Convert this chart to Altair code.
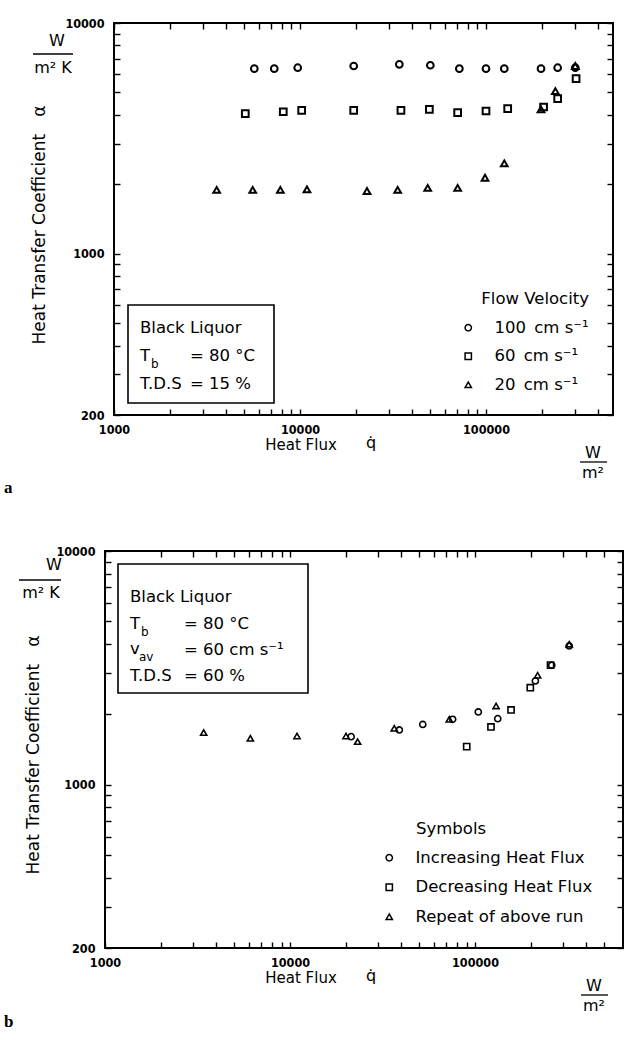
import altair as alt
import pandas as pd

# ---------------- data ----------------
# Panel a: flow velocity series
A_SERIES = ["100\u2002cm s\u207b\u00b9",
            "\u200760\u2002cm s\u207b\u00b9",
            "\u200720\u2002cm s\u207b\u00b9"]
A_Q_100 = [5680, 7270, 9720, 19440, 34200, 50200, 71900, 100000, 125400, 197600, 242800, 302000]
A_H_100 = [6340, 6340, 6400, 6510, 6620, 6560, 6340, 6340, 6340, 6340, 6400, 6400]
A_Q_60 = [5080, 8130, 10210, 19440, 34900, 49600, 70400, 100000, 130800, 204000, 242800, 305000]
A_H_60 = [4045, 4125, 4185, 4185, 4185, 4225, 4085, 4155, 4255, 4325, 4700, 5740]
A_Q_20 = [3565, 5570, 7840, 10900, 22920, 33500, 48600, 70400, 98800, 125400, 197600, 236000, 302000]
A_H_20 = [1890, 1890, 1890, 1900, 1870, 1890, 1930, 1930, 2135, 2465, 4225, 5070, 6510]

# Panel b: run series
B_SERIES = ["Increasing Heat Flux", "Decreasing Heat Flux", "Repeat of above run"]
B_Q_INC = [21400, 39000, 52200, 75700, 104200, 132700, 212000, 260000, 323000]
B_H_INC = [1605, 1714, 1810, 1905, 2047, 1917, 2778, 3243, 3923]
B_Q_DEC = [90200, 122000, 156600, 199000, 256000]
B_H_DEC = [1455, 1766, 2088, 2600, 3250]
B_Q_REP = [3415, 6105, 10910, 20080, 23200, 36600, 72600, 130000, 218000, 323000]
B_H_REP = [1670, 1578, 1615, 1615, 1528, 1743, 1905, 2172, 2938, 3990]

X_TICKS_A = [1000, 2000, 3000, 4000, 5000, 6000, 7000, 8000, 9000,
             10000, 20000, 30000, 40000, 50000, 60000, 70000, 80000, 90000,
             100000, 200000, 300000, 400000]
X_TICKS_B = X_TICKS_A + [500000]
Y_TICKS = [200, 300, 400, 500, 600, 700, 800, 900,
           1000, 2000, 3000, 4000, 5000, 6000, 7000, 8000, 9000, 10000]
X_LABELS = [1000, 10000, 100000]
Y_LABELS = [200, 1000, 10000]


def series_df(names, qs, hs):
    rows = []
    for n, q, h in zip(names, qs, hs):
        for qq, hh in zip(q, h):
            rows.append({"q": qq, "h": hh, "s": n})
    return pd.DataFrame(rows)


DF_A = series_df(A_SERIES, [A_Q_100, A_Q_60, A_Q_20], [A_H_100, A_H_60, A_H_20])
DF_B = series_df(B_SERIES, [B_Q_INC, B_Q_DEC, B_Q_REP], [B_H_INC, B_H_DEC, B_H_REP])
ONE = pd.DataFrame({"k": [0]})

FONT = "DejaVu Sans"
TICKF = "DejaVu Sans Condensed"
TS = 16.5  # main text size


def label_expr(vals):
    cond = " || ".join(f"datum.value == {v}" for v in vals)
    return f"({cond}) ? '' + datum.value : ''"


def txt(text, x, y, size=TS, align="left", baseline="middle", angle=0,
        font=FONT, weight="normal"):
    kw = dict(align=align, baseline=baseline, fontSize=size, font=font,
              fontWeight=weight, color="black")
    if angle:
        kw["angle"] = angle
    return alt.Chart(ONE).mark_text(**kw).encode(
        x=alt.value(x), y=alt.value(y), text=alt.value(text))


def hrule(x1, x2, y, w=1.3):
    return alt.Chart(ONE).mark_rule(color="black", strokeWidth=w).encode(
        x=alt.value(x1), x2=alt.value(x2), y=alt.value(y))


def box(x1, x2, y1, y2, w=1.6):
    return alt.Chart(ONE).mark_rect(fillOpacity=0, stroke="black", strokeWidth=w).encode(
        x=alt.value(x1), x2=alt.value(x2), y=alt.value(y1), y2=alt.value(y2))


def make_axis(orient, values, labels, show_labels, offset=-6):
    kw = dict(orient=orient, values=values, offset=offset, domain=False, tickSize=6,
              tickWidth=1.4, tickColor="black", grid=False, title=None)
    if show_labels:
        kw.update(labelExpr=label_expr(labels), labelFont=TICKF, labelFontSize=12.5,
                  labelFontWeight="bold", labelColor="black", labelOverlap=False,
                  labelFlush=False, labelPadding=10 if orient == "left" else 8)
    else:
        kw.update(labels=False)
    return alt.Axis(**kw)


def panel(df, series, xmin, xmax, w, h, x0, xticks, legend, size, sw, annotations):
    # x0: pixel position of the frame's left edge inside the view
    xs = alt.Scale(type="log", domain=[xmin, xmax], nice=False)
    ys = alt.Scale(type="log", domain=[200, 10000], nice=False)
    pts = alt.Chart(df).mark_point(filled=False, color="black", strokeWidth=sw,
                                   size=size, opacity=1).encode(
        x=alt.X("q:Q", scale=xs, axis=make_axis("bottom", xticks, X_LABELS, True)),
        y=alt.Y("h:Q", scale=ys, axis=make_axis("left", Y_TICKS, Y_LABELS, True,
                                                offset=-(6 + x0))),
        shape=alt.Shape("s:N", scale=alt.Scale(domain=series,
                                               range=["circle", "square", "triangle-up"]),
                        legend=legend),
    )
    frame_axes = alt.Chart(df).mark_point(opacity=0).encode(
        x=alt.X("q:Q", scale=xs, axis=make_axis("top", xticks, X_LABELS, False)),
        y=alt.Y("h:Q", scale=ys, axis=make_axis("right", Y_TICKS, Y_LABELS, False)),
    )
    frame = box(x0, w, 0, h, w=2)
    return alt.layer(pts, frame_axes, frame, *annotations).resolve_axis(
        x="independent", y="independent").properties(width=w, height=h)


# ---------------- panel a ----------------
SH = 9                     # frame of panel a starts 9 px right of panel b's
WA, HA = 499, 392
DEC_A = 186.0
XMAX_A = 1000 * 10 ** (WA / DEC_A)
XMIN_A = 1000 / 10 ** (SH / DEC_A)
legend_a = alt.Legend(orient="none", legendX=SH + 346, legendY=268, title="Flow Velocity",
                      titleFont=FONT, titleFontSize=TS, titleFontWeight="normal",
                      titleColor="black", titleAnchor="end", titlePadding=12,
                      labelFont=FONT, labelFontSize=TS, labelColor="black", labelOffset=18,
                      labelLimit=400, rowPadding=11.5, symbolSize=40, symbolStrokeWidth=1.5,
                      symbolStrokeColor="black", padding=0)
ann_a = [
    txt("a", SH - 110, 465, size=17, font="Liberation Serif", weight="bold"),
    txt("Heat Transfer Coefficient\u2002\u2002\u03b1", SH - 74, 224 - 22, size=17,
        angle=270, align="center"),
    txt("W", SH - 57, 18, size=16, align="center"),
    hrule(SH - 81, SH - 41, 31),
    txt("m\u00b2 K", SH - 61, 45, size=16, align="center"),
    txt("Heat Flux", SH + 187, HA + 30, size=15, align="center"),
    txt("q\u0307", SH + 257, HA + 28, size=16, align="center"),
    txt("W", SH + 479, HA + 38, size=16, align="center"),
    hrule(SH + 466, SH + 493, HA + 47),
    txt("m\u00b2", SH + 479, HA + 58, size=16, align="center"),
    box(SH + 14, SH + 160, 282, 380),
    txt("Black Liquor", SH + 26, 305),
    txt("T", SH + 26, 333),
    txt("b", SH + 37, 341, size=12),
    txt("= 80 \u00b0C", SH + 76, 333),
    txt("T.D.S", SH + 26, 361),
    txt("= 15 %", SH + 76, 361),
]
pa = panel(DF_A, A_SERIES, XMIN_A, XMAX_A, SH + WA, HA, SH, X_TICKS_A, legend_a, 45, 2.0, ann_a)

# ---------------- panel b ----------------
WB, HB = 518, 397
DEC_B = 185.0
XMAX_B = 1000 * 10 ** (WB / DEC_B)
legend_b = alt.Legend(orient="none", legendX=276, legendY=298.5, title=None,
                      labelFont=FONT, labelFontSize=TS, labelColor="black", labelOffset=18,
                      labelLimit=400, rowPadding=12.5, symbolSize=40, symbolStrokeWidth=1.5,
                      symbolStrokeColor="black", padding=0)
ann_b = [
    txt("b", -101, 471, size=17, font="Liberation Serif", weight="bold"),
    txt("Heat Transfer Coefficient\u2002\u2002\u03b1", -71, 204, size=17,
        angle=270, align="center"),
    txt("W", -51, 14, size=16, align="center"),
    hrule(-86, -44, 29),
    txt("m\u00b2 K", -64, 42, size=16, align="center"),
    txt("Heat Flux", 196, HB + 30, size=15, align="center"),
    txt("q\u0307", 266, HB + 28, size=16, align="center"),
    txt("W", 489, HB + 38, size=16, align="center"),
    hrule(476, 503, HB + 47),
    txt("m\u00b2", 489, HB + 58, size=16, align="center"),
    box(13, 203, 13, 142),
    txt("Black Liquor", 25, 46),
    txt("T", 25, 73),
    txt("b", 36, 81, size=12),
    txt("= 80 \u00b0C", 79, 73),
    txt("v", 25, 98),
    txt("av", 34, 105.5, size=12),
    txt("= 60 cm s\u207b\u00b9", 79, 99),
    txt("T.D.S", 25, 124.5),
    txt("= 60 %", 79, 124.5),
    txt("Symbols", 311, 278),
]
pb = panel(DF_B, B_SERIES, 1000, XMAX_B, WB, HB, 0, X_TICKS_B, legend_b, 38, 1.6, ann_b)

chart = alt.concat(pa, pb, columns=1, spacing=47, align="none", bounds="full").resolve_scale(
    shape="independent", x="independent", y="independent"
).configure_view(stroke="transparent").properties(
    background="white", padding={"left": 3, "top": 16, "right": 5, "bottom": 5}
)

chart.save("out.html", embed_options={"renderer": "svg", "actions": False})
